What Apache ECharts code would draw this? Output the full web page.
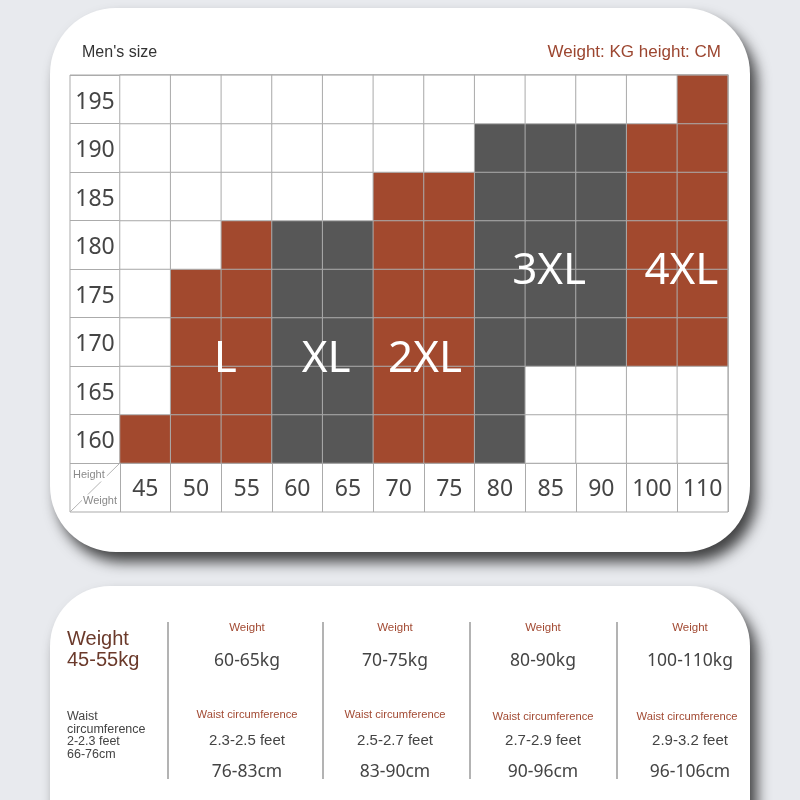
<!DOCTYPE html>
<html><head><meta charset="utf-8">
<script src="https://cdn.jsdelivr.net/npm/echarts@6/dist/echarts.min.js"></script>
<style>html,body{margin:0;padding:0;background:#e8eaee}#c{width:800px;height:800px}</style>
</head><body><div id="c"></div>
<script>
// ---------- data ----------
const weights = ['45','50','55','60','65','70','75','80','85','90','100','110'];
const heights = ['160','165','170','175','180','185','190','195'];
const sizes = ['L','XL','2XL','3XL','4XL'];
// size for each weight column, one array per height row ('' = no size)
const row160 = ['L','L','L','XL','XL','2XL','2XL','3XL','','','',''];
const row165 = ['','L','L','XL','XL','2XL','2XL','3XL','','','',''];
const row170 = ['','L','L','XL','XL','2XL','2XL','3XL','3XL','3XL','4XL','4XL'];
const row175 = ['','L','L','XL','XL','2XL','2XL','3XL','3XL','3XL','4XL','4XL'];
const row180 = ['','','L','XL','XL','2XL','2XL','3XL','3XL','3XL','4XL','4XL'];
const row185 = ['','','','','','2XL','2XL','3XL','3XL','3XL','4XL','4XL'];
const row190 = ['','','','','','','','3XL','3XL','3XL','4XL','4XL'];
const row195 = ['','','','','','','','','','','','4XL'];
const rows = [row160,row165,row170,row175,row180,row185,row190,row195];

// lower table
const firstWeight = '45-55kg';
const firstWaist = ['Waist','circumference','2-2.3 feet','66-76cm'];
const tableWeights = ['60-65kg','70-75kg','80-90kg','100-110kg'];
const tableWaistFeet = ['2.3-2.5 feet','2.5-2.7 feet','2.7-2.9 feet','2.9-3.2 feet'];
const tableWaistCm = ['76-83cm','83-90cm','90-96cm','96-106cm'];

// ---------- styles / layout ----------
const BROWN = '#a2492e', GRAY = '#575757', LINE = '#ababab';
const sizeColor = {L: BROWN, XL: GRAY, '2XL': BROWN, '3XL': GRAY, '4XL': BROWN};
// label anchor in cell units (from grid's left / bottom edge)
const labelAnchor = {L:[2.08,2.13], XL:[4.07,2.13], '2XL':[6.02,2.13], '3XL':[8.47,3.95], '4XL':[11.08,3.95]};
const GL = 120, GT = 75, GR = 72, GB = 337;
const colX = [247, 395, 543, 690];
const sepX = [168, 323, 470, 617];

const heatData = [];
rows.forEach((r, yi) => r.forEach((s, xi) => {
  heatData.push({value: [xi, yi, s ? sizes.indexOf(s) : -1],
    itemStyle: {color: s ? sizeColor[s] : '#ffffff'}});
}));
const labelData = sizes.map(s => ({value: [labelAnchor[s][0], labelAnchor[s][1]], name: s}));

const SANS = 'Liberation Sans';
const NOTO = 'Noto Sans';
const els = [];
const shadow = {shadowBlur:14, shadowOffsetX:7, shadowOffsetY:10, shadowColor:'rgba(0,0,0,0.72)'};
// cards
els.push({type:'rect', z:-10, shape:{x:50,y:8,width:700,height:544,r:66}, style:Object.assign({fill:'#fff'}, shadow)});
els.push({type:'rect', z:-10, shape:{x:50,y:586,width:700,height:280,r:60}, style:Object.assign({fill:'#fff'}, shadow)});
// headers
els.push({type:'text', z:5, style:{text:"Men's size", x:82, y:53, font:'16px '+SANS, fill:'#333', align:'left', verticalAlign:'middle'}});
els.push({type:'text', z:5, style:{text:'Weight: KG height: CM', x:721, y:52, font:'17px '+SANS, fill:'#9c4630', align:'right', verticalAlign:'middle'}});
// table outer border and corner cell
els.push({type:'rect', z:5, shape:{x:70,y:GT,width:800-GR-70,height:512-GT}, style:{fill:'none', stroke:LINE, lineWidth:1}});
els.push({type:'line', z:5, shape:{x1:70,y1:512,x2:GL,y2:800-GB}, style:{stroke:'#b5b5b5', lineWidth:1}});
els.push({type:'text', z:6, style:{text:'Height', x:71, y:475, font:'11px '+SANS, fill:'#8a8a8a', align:'left', verticalAlign:'middle', backgroundColor:'#fff', padding:[1,2]}});
els.push({type:'text', z:6, style:{text:'Weight', x:118, y:501, font:'11px '+SANS, fill:'#8a8a8a', align:'right', verticalAlign:'middle', backgroundColor:'#fff', padding:[1,1]}});
// lower table
els.push({type:'text', z:5, style:{text:'Weight', x:67, y:639, font:'20px '+SANS, fill:'#6b3a2b', align:'left', verticalAlign:'middle'}});
els.push({type:'text', z:5, style:{text:firstWeight, x:67, y:660, font:'20px '+SANS, fill:'#6b3a2b', align:'left', verticalAlign:'middle'}});
firstWaist.forEach((t, i) => els.push({type:'text', z:5, style:{text:t, x:67, y:717 + i*12.4, font:'12.5px '+SANS, fill:'#444', align:'left', verticalAlign:'middle'}}));
sepX.forEach(x => els.push({type:'line', z:5, shape:{x1:x,y1:622,x2:x,y2:779}, style:{stroke:'#9a9a9a', lineWidth:1.5}}));
tableWeights.forEach((t, i) => {
  const cx = colX[i];
  els.push({type:'text', z:5, style:{text:'Weight', x:cx, y:628, font:'11.5px '+SANS, fill:'#a24a33', align:'center', verticalAlign:'middle'}});
  els.push({type:'text', z:5, style:{text:t, x:cx, y:661, font:'17.5px '+NOTO, fill:'#444', align:'center', verticalAlign:'middle'}});
  els.push({type:'text', z:5, style:{text:'Waist circumference', x:cx - (i===3?3:0), y:715 + (i>=2?1.5:0), font:'11.2px '+SANS, fill:'#a24a33', align:'center', verticalAlign:'middle'}});
  els.push({type:'text', z:5, style:{text:tableWaistFeet[i], x:cx, y:741, font:'15px '+SANS, fill:'#444', align:'center', verticalAlign:'middle'}});
  els.push({type:'text', z:5, style:{text:tableWaistCm[i], x:cx, y:772, font:'17.5px '+NOTO, fill:'#444', align:'center', verticalAlign:'middle'}});
});

const chart = echarts.init(document.getElementById('c'), null, {renderer:'canvas'});
chart.setOption({
  backgroundColor: '#e8eaee',
  animation: false,
  graphic: {elements: els},
  grid: {left: GL, right: GR, top: GT, bottom: GB, containLabel: false},
  xAxis: [{
    type: 'category', data: weights, position: 'bottom',
    axisLine: {show: true, lineStyle: {color: LINE, width: 1}},
    axisTick: {show: true, interval: 0, length: 49, inside: false, lineStyle: {color: LINE, width: 1}},
    axisLabel: {interval: 0, margin: 15, fontSize: 23, fontFamily: NOTO, color: '#454545'},
    splitLine: {show: false}
  }, {
    type: 'value', min: 0, max: 12, show: false
  }],
  yAxis: [{
    type: 'category', data: heights,
    axisLine: {show: true, lineStyle: {color: LINE, width: 1}},
    axisTick: {show: true, interval: 0, length: 50, inside: false, lineStyle: {color: LINE, width: 1}},
    axisLabel: {interval: 0, margin: 25, align: 'center', fontSize: 23, fontFamily: NOTO, color: '#454545',
      formatter: v => '{h|' + v + '}',
      rich: {h: {fontSize: 23, fontFamily: NOTO, color: '#454545', padding: [6, 0, 0, 0]}}},
    splitLine: {show: false}
  }, {
    type: 'value', min: 0, max: 8, show: false
  }],
  series: [{
    type: 'heatmap', data: heatData,
    itemStyle: {borderColor: LINE, borderWidth: 1},
    emphasis: {disabled: true}, label: {show: false}
  }, {
    type: 'scatter', xAxisIndex: 1, yAxisIndex: 1, data: labelData,
    symbolSize: 0, silent: true, z: 10, itemStyle: {opacity: 1},
    emphasis: {disabled: true},
    label: {show: true, position: 'inside', formatter: p => p.name, opacity: 1,
      fontSize: 44, fontFamily: NOTO, color: '#ffffff', textBorderWidth: 0, textShadowBlur: 0}
  }]
});
</script></body></html>
